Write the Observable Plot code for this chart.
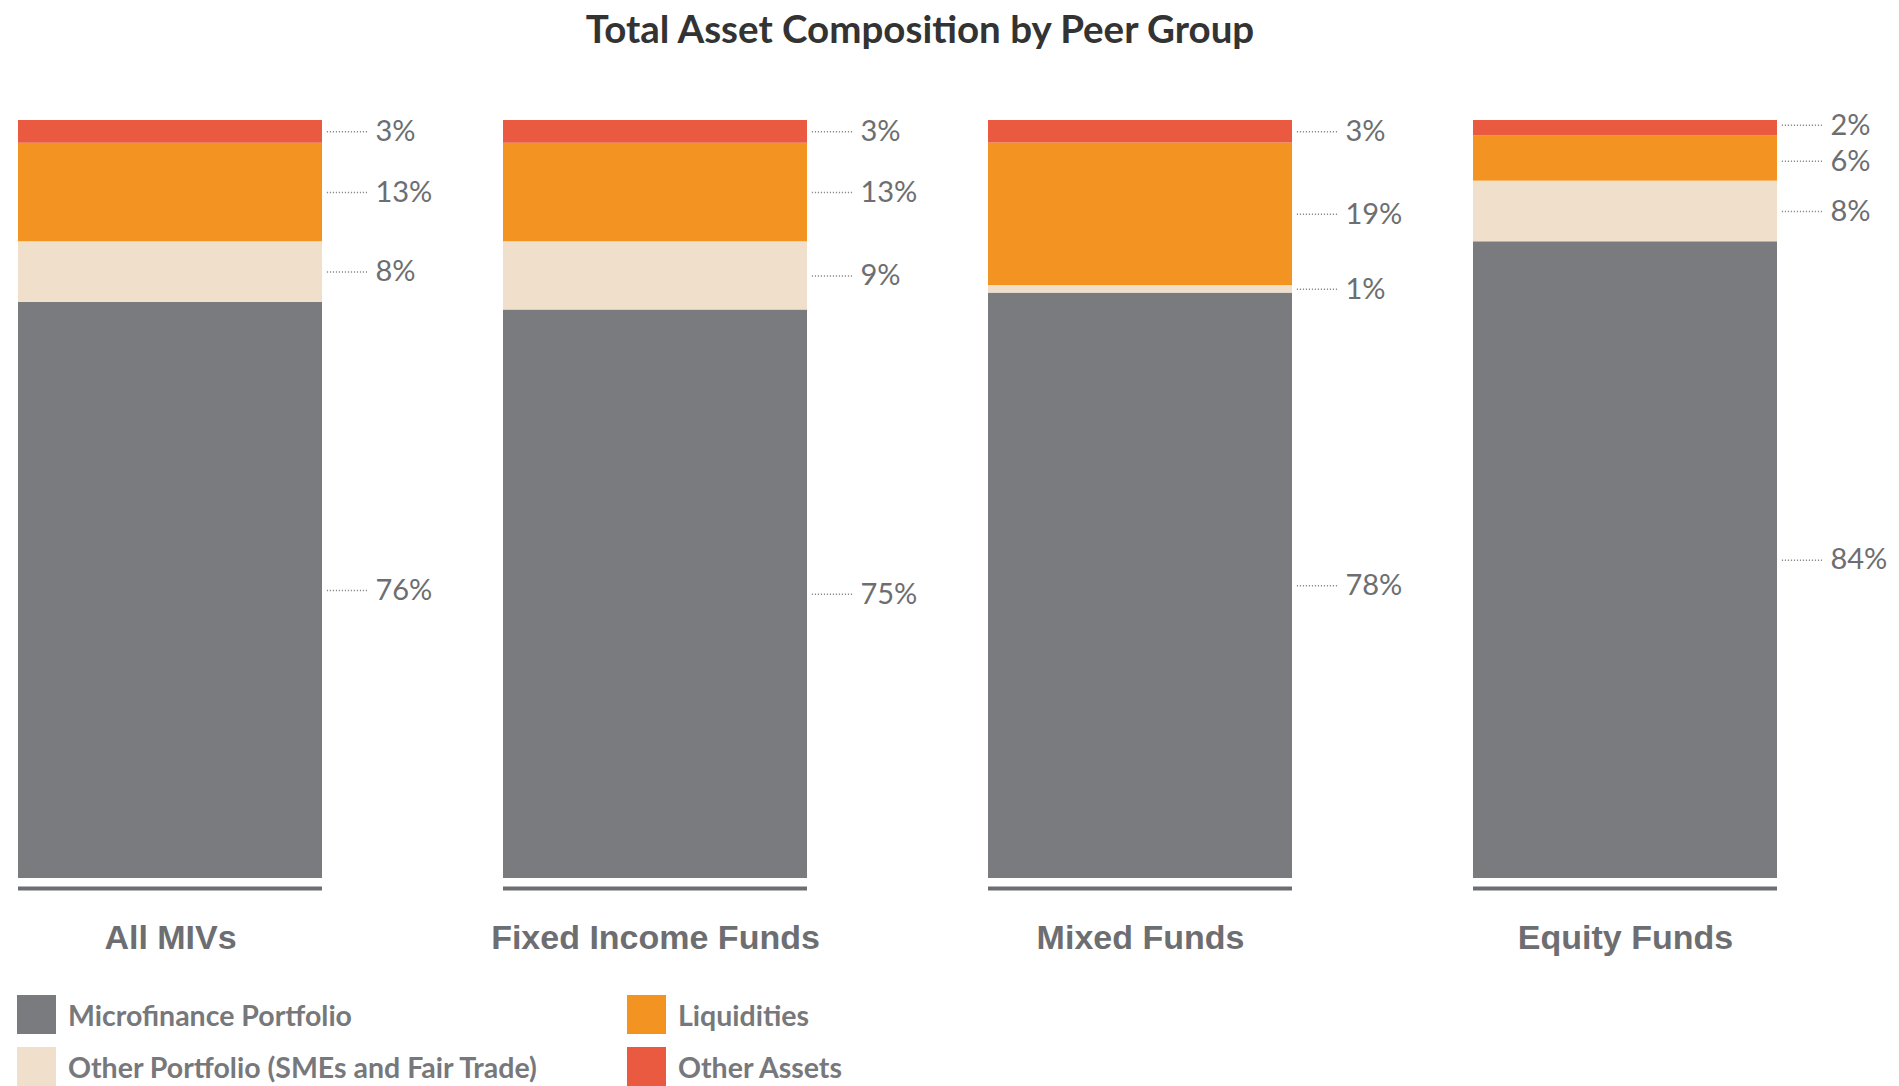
<!DOCTYPE html>
<html>
<head>
<meta charset="utf-8">
<script src="https://cdn.jsdelivr.net/npm/d3@7"></script>
<script src="https://cdn.jsdelivr.net/npm/@observablehq/plot@0.6"></script>
<style>
  html, body { margin: 0; padding: 0; background: #fff; }
  body { width: 1899px; height: 1086px; overflow: hidden; }
  #title { width: 1840px; height: 60px; line-height: 56px; text-align: center;
    font-family: Lato, "Open Sans", sans-serif; font-weight: 700; font-size: 38.5px; color: #333333; }
  #chart svg { display: block; }
  #legend { display: grid; grid-template-rows: 52px 52px; grid-auto-flow: column;
    grid-template-columns: 610px 400px; padding: 10px 0 0 17px; }
  .item { display: flex; align-items: center; height: 39px; font-family: Lato, sans-serif;
    font-weight: 700; font-size: 28.5px; color: #77787b; }
  .sw { width: 39px; height: 39px; margin-right: 12px; flex: none; }
</style>
</head>
<body>
<div id="title">Total Asset Composition by Peer Group</div>
<div id="chart"></div>
<div id="legend"></div>
<script>
const categories = ["All MIVs", "Fixed Income Funds", "Mixed Funds", "Equity Funds"];
const series = ["Microfinance Portfolio", "Other Portfolio (SMEs and Fair Trade)", "Liquidities", "Other Assets"];
const microfinance = [76, 75, 78, 84];
const otherPortfolio = [8, 9, 1, 8];
const liquidities = [13, 13, 19, 6];
const otherAssets = [3, 3, 3, 2];
const colors = ["#7a7b7f", "#f0dfca", "#f39321", "#e95a41"];

const seriesValues = [microfinance, otherPortfolio, liquidities, otherAssets];
const data = [];
categories.forEach((c, i) => {
  series.forEach((s, j) => data.push({category: c, series: s, value: seriesValues[j][i]}));
});

const width = 1899, height = 925, marginLeft = 17, marginRight = 122, marginTop = 60, marginBottom = 107;
const paddingInner = 0.374;
const step = (width - marginLeft - marginRight) / (categories.length - paddingInner);
const bw = step * (1 - paddingInner);
const plotH = height - marginTop - marginBottom;

// label anchor = normalized stack midpoint, gently separated so labels don't collide
const minGap = 36 / plotH;
const labels = [];
categories.forEach((c, i) => {
  const vals = seriesValues.map(v => v[i]);
  const total = d3.sum(vals);
  let acc = 0;
  const group = vals.map((v, j) => {
    const mid = (acc + v / 2) / total;
    acc += v;
    return {category: c, series: series[j], value: v, pos: mid};
  });
  for (let k = 1; k < group.length; k++) {
    const d = group[k].pos - group[k - 1].pos;
    if (d < minGap) {
      const shift = (minGap - d) / 2;
      group[k].pos += shift;
      group[k - 1].pos -= shift;
    }
  }
  labels.push(...group);
});

const stackOpts = {x: "category", y: "value", z: "series", offset: "normalize"};

const chart = Plot.plot({
  width, height, marginLeft, marginRight, marginTop, marginBottom,
  style: {fontFamily: "Lato, sans-serif", background: "#fff"},
  x: {domain: categories, paddingInner, paddingOuter: 0, label: null},
  y: {domain: [0, 1], axis: null},
  color: {domain: series, range: colors},
  marks: [
    Plot.barY(data, {...stackOpts, fill: "series"}),
    Plot.tickY(categories, {x: d => d, y: 0, dy: 10, stroke: "#6d6e71", strokeWidth: 4}),
    Plot.tickY(labels, {x: "category", y: "pos", stroke: "#8a8a8a", strokeWidth: 1.5,
      strokeDasharray: "1.2,1.8", insetLeft: bw - 41, dx: 46}),
    Plot.text(labels, {x: "category", y: "pos", text: d => d.value + "%", textAnchor: "start",
      dx: bw / 2 + 53, fontSize: 29, fill: "#6d6e71"}),
    Plot.axisX({tickSize: 0, tickPadding: 46, fontSize: 34, fontWeight: "bold",
      fontFamily: "'Liberation Sans', Arial, sans-serif", color: "#6d6e71", label: null})
  ]
});
document.getElementById("chart").appendChild(chart);

const legend = document.getElementById("legend");
series.forEach((s, j) => {
  const item = document.createElement("div");
  item.className = "item";
  const sw = document.createElement("span");
  sw.className = "sw";
  sw.style.background = colors[j];
  item.appendChild(sw);
  const t = document.createElement("span");
  t.textContent = s;
  item.appendChild(t);
  legend.appendChild(item);
});
</script>
</body>
</html>
